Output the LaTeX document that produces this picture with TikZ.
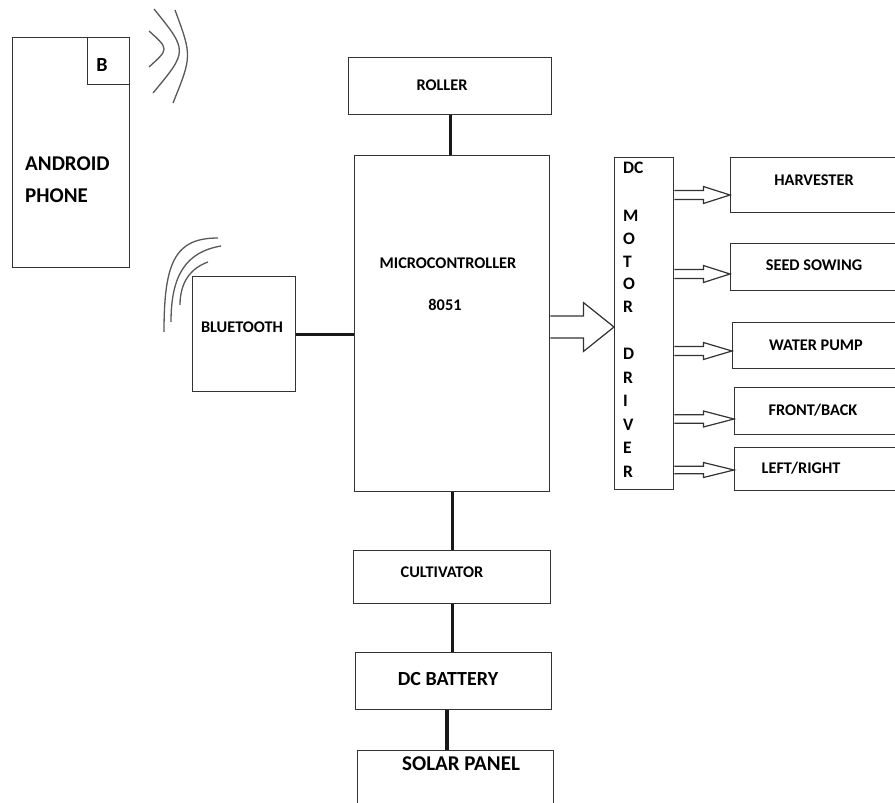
\documentclass[tikz,border=0pt]{standalone}
\usepackage{fontspec}
\setmainfont{Carlito}
\usetikzlibrary{calc}
\newcommand\hollowarrow[5]{%
  \draw[arr] (#1) ++(0,-#4) -- ++(#3,0) -- ++(0,#4-#5) -- (#2) -- ($(#1)+(#3,#5)$) -- ++(0,#4-#5) -- ++(-#3,0);}
\begin{document}
\begin{tikzpicture}[x=1pt,y=-1pt,
  box/.style={draw=black!80, line width=1.4pt, inner sep=0pt, anchor=north west, fill=none},
  lbl/.style={inner sep=0pt, text height=0.644em, text depth=0pt, font=\bfseries\fontsize{16.3}{18}\selectfont, text=black},
  biglbl/.style={lbl, font=\bfseries\fontsize{21}{24}\selectfont},
  drvlbl/.style={lbl, anchor=west, font=\bfseries\fontsize{17.5}{20}\selectfont},
  conn/.style={line width=3.2pt, black!90},
  arr/.style={draw=black!80, line width=1.2pt, line join=miter},
  wave/.style={draw=black!65, line width=1.3pt}]
\useasboundingbox (0,0) rectangle (895,803);
\clip (0,0) rectangle (895,803);
\fill[white] (0,0) rectangle (895,803);

% phone
\node[box, minimum width=117pt, minimum height=230pt] (phone) at (12,37) {};
\node[box, minimum width=42pt, minimum height=47pt] (bbox) at (87,37) {};
\node[biglbl, font=\bfseries\fontsize{20}{24}\selectfont] (btext) at (102,68) {B};
\node[biglbl, anchor=west] (and) at (25,167) {ANDROID};
\node[biglbl, anchor=west] (pho) at (25,199) {PHONE};

% phone waves
\draw[wave] (149,31) .. controls (169,49) .. (149,67);
\draw[wave] (154,9) .. controls (188,51) .. (153,93);
\draw[wave] (175,10) .. controls (192,56) .. (173,103);

% bluetooth
\node[box, minimum width=103pt, minimum height=115pt] (bt) at (192,276) {};
\node[lbl] (bttext) at (242,329) {BLUETOOTH};
\draw[wave] (218,238) .. controls (175,238) and (164,262) .. (164,332);
\draw[wave] (221,246) .. controls (186,252) and (171,275) .. (171,322);
\draw[wave] (208,262) .. controls (191,268) and (180,282) .. (180,305);

% roller, mcu
\node[box, minimum width=203pt, minimum height=57pt] (roller) at (348,57) {};
\node[lbl] (rolltext) at (442,87) {ROLLER};
\node[box, minimum width=195pt, minimum height=336pt] (mcu) at (354,155) {};
\node[lbl] (mcutext) at (448,265) {MICROCONTROLLER};
\node[lbl] (mcunum) at (445,307) {8051};

% motor driver
\node[box, minimum width=59pt, minimum height=332pt] (drv) at (614,157) {};
\foreach \t/\yy [count=\i] in {DC/170, M/218, O/241, T/264, O/286, R/309, D/356, R/380, I/403, V/427, E/450, R/474}
  \node[drvlbl] (dl\i) at (623,\yy) {\t};

% outputs
\node[box, minimum width=200pt, minimum height=55pt] (harv) at (730,157) {};
\node[lbl] (harvtext) at (814,182) {HARVESTER};
\node[box, minimum width=200pt, minimum height=47pt] (seed) at (730,243) {};
\node[lbl] (seedtext) at (814,267) {SEED SOWING};
\node[box, minimum width=200pt, minimum height=46pt] (water) at (732,322) {};
\node[lbl] (watertext) at (816,347) {WATER PUMP};
\node[box, minimum width=200pt, minimum height=47pt] (front) at (734,387) {};
\node[lbl] (fronttext) at (813,412) {FRONT/BACK};
\node[box, minimum width=200pt, minimum height=43pt] (left) at (734,447) {};
\node[lbl] (lefttext) at (801,470) {LEFT/RIGHT};

% bottom chain
\node[box, minimum width=197pt, minimum height=53pt] (cult) at (353,550) {};
\node[lbl] (culttext) at (442,574) {CULTIVATOR};
\node[box, minimum width=196pt, minimum height=57pt] (batt) at (355,652) {};
\node[biglbl, font=\bfseries\fontsize{20}{24}\selectfont] (batttext) at (448,682) {DC BATTERY};
\node[box, minimum width=196pt, minimum height=90pt] (solar) at (357,750) {};
\node[biglbl] (solartext) at (461,767) {SOLAR PANEL};

% connectors
\draw[conn] (roller.south) -- (roller.south |- mcu.north);
\draw[conn] (bt.east) -- (bt.east -| mcu.west);
\draw[conn] (mcu.south) -- (mcu.south |- cult.north);
\draw[conn] (cult.south) -- (cult.south |- batt.north);
\draw[conn] (447,0 |- batt.south) -- (447,0 |- solar.north);

% hollow arrows
\coordinate (m1) at (mcu.east |- 0,327);
\coordinate (m2) at (drv.west |- 0,327);
\hollowarrow{m1}{m2}{33}{11}{24.5}
\coordinate (a1) at (drv.east |- 0,195);  \coordinate (b1) at (harv.west |- 0,195);
\coordinate (a2) at (drv.east |- 0,274);  \coordinate (b2) at (seed.west |- 0,274);
\coordinate (a3) at (drv.east |- 0,351);  \coordinate (b3) at (water.west |- 0,351);
\coordinate (a4) at (drv.east |- 0,419);  \coordinate (b4) at (front.west |- 0,419);
\coordinate (a5) at (drv.east |- 0,470);  \coordinate (b5) at (left.west |- 0,470);
\hollowarrow{a1}{b1}{29}{4.5}{8.5}
\hollowarrow{a2}{b2}{29}{4.5}{8.5}
\hollowarrow{a3}{b3}{29}{4.5}{8.5}
\hollowarrow{a4}{b4}{29}{4.2}{8}
\hollowarrow{a5}{b5}{29}{3.8}{7.5}
\end{tikzpicture}
\end{document}
